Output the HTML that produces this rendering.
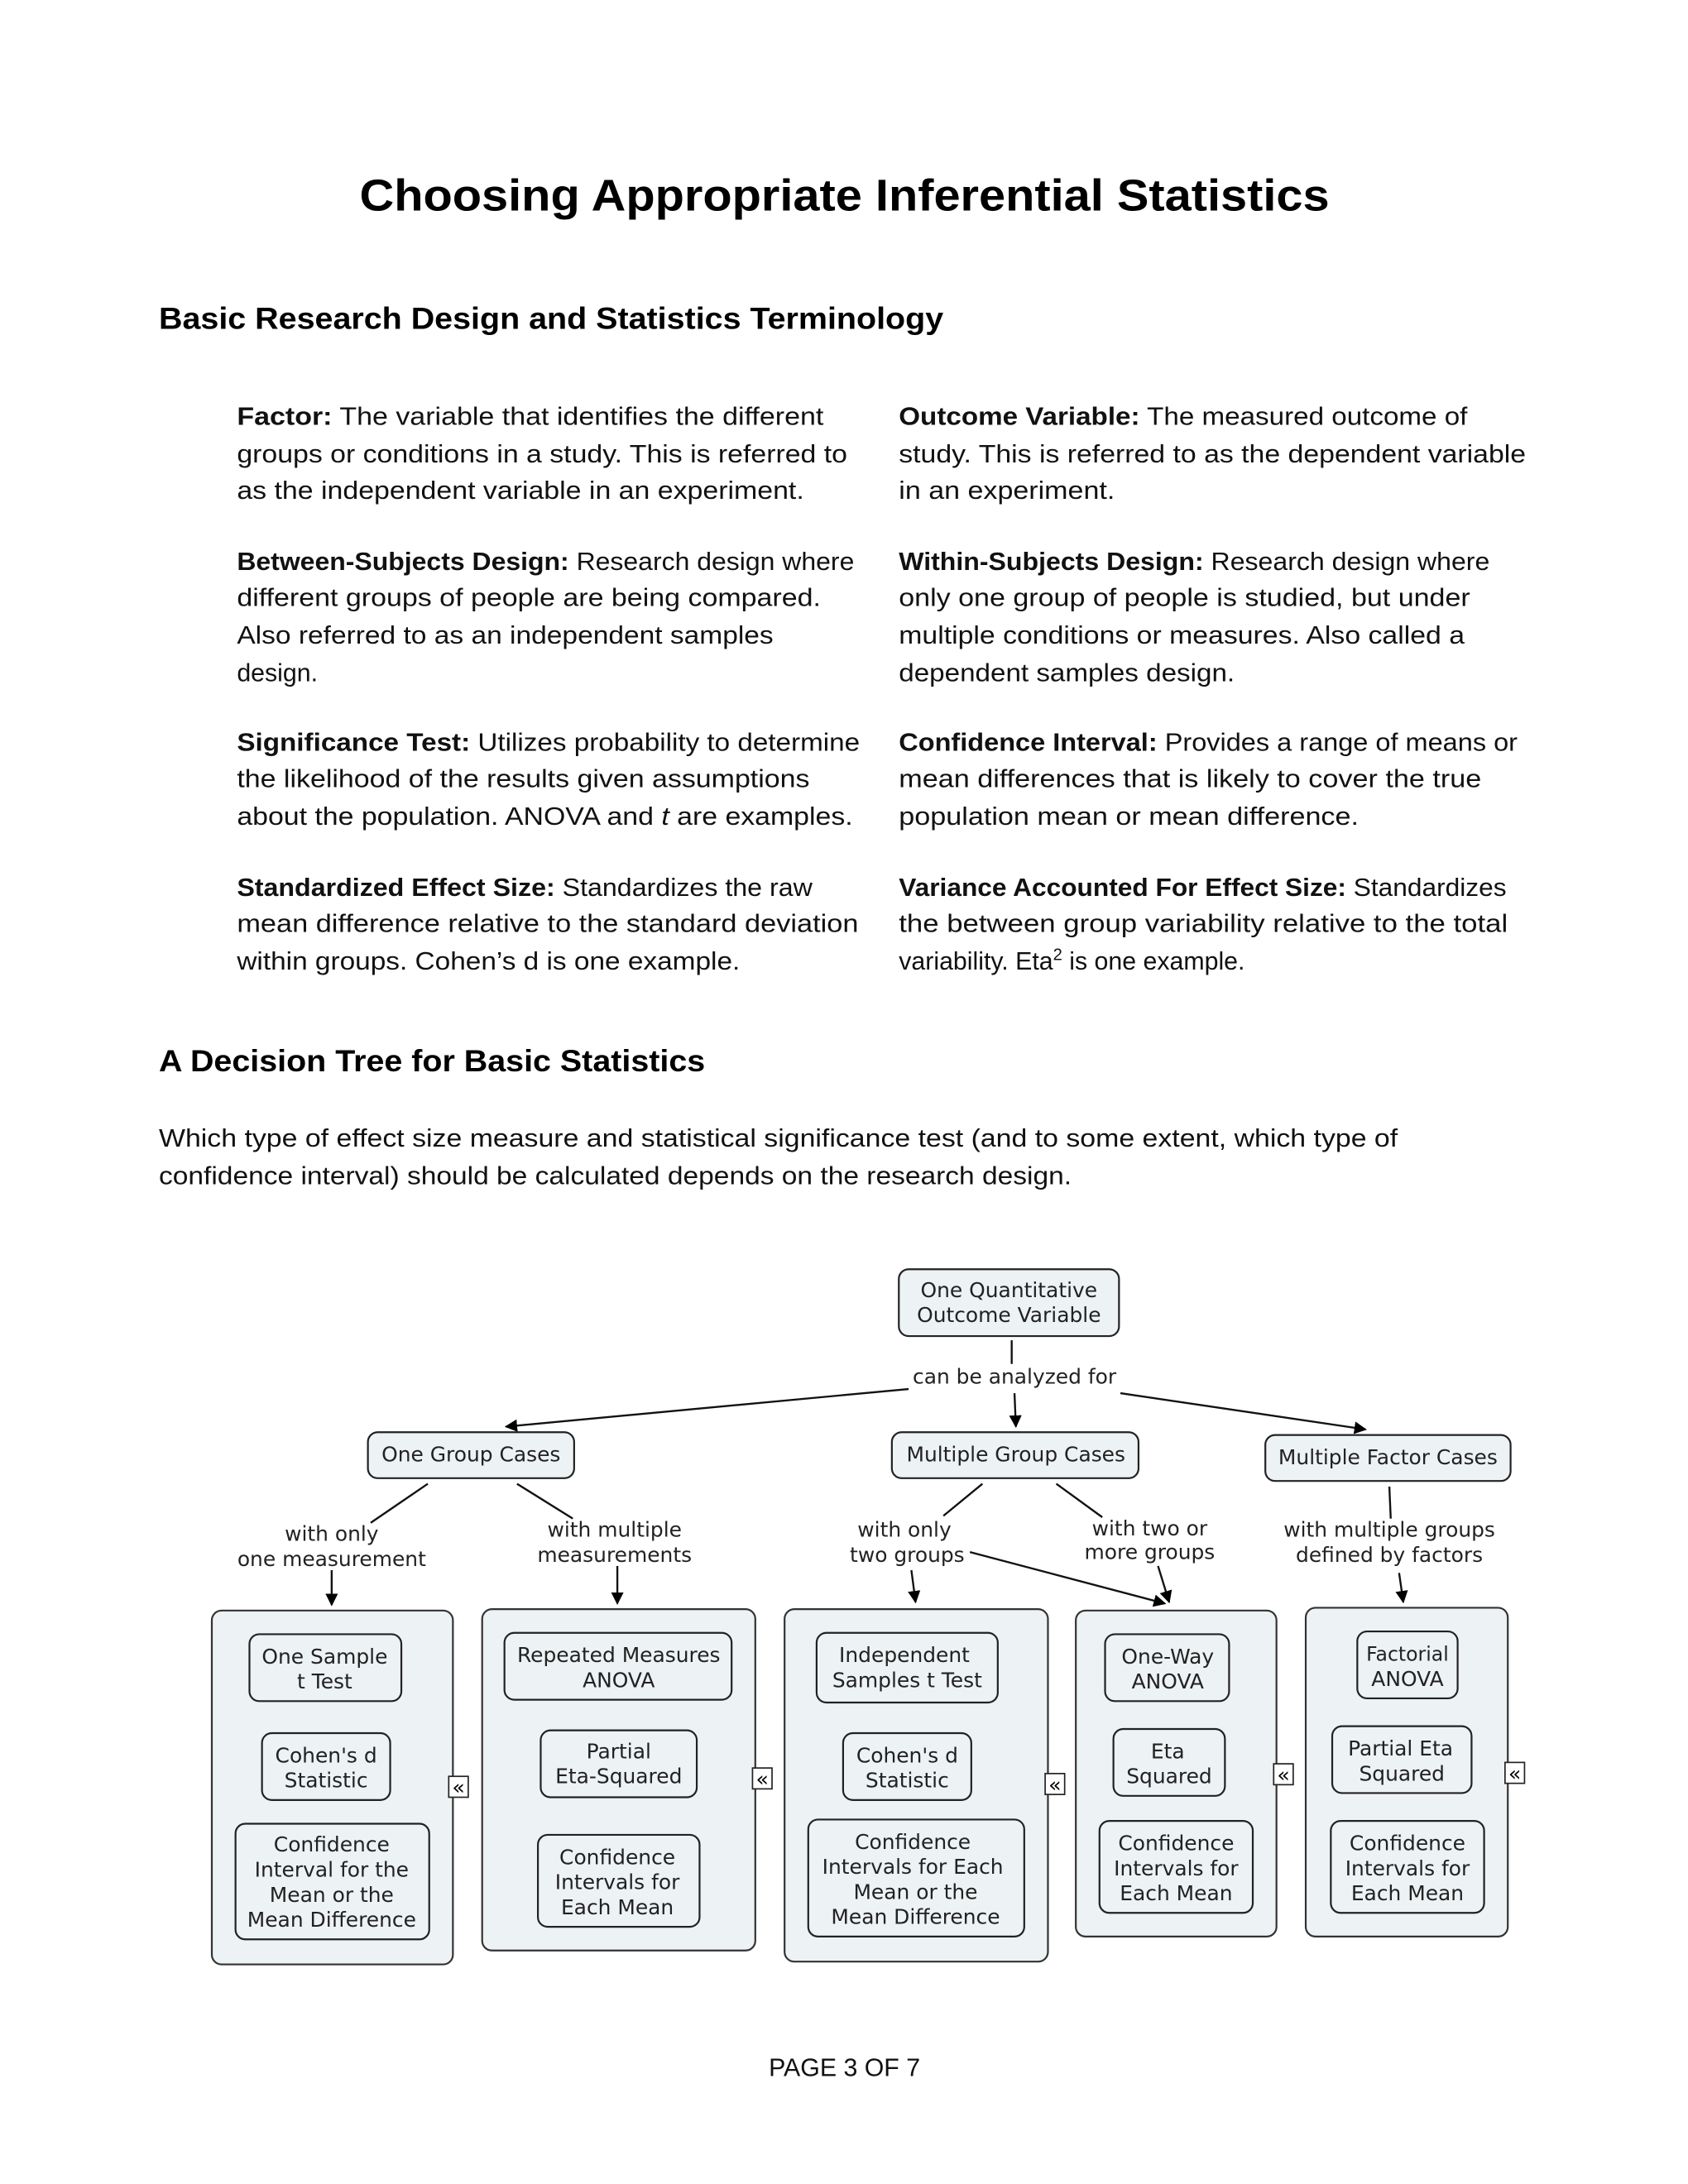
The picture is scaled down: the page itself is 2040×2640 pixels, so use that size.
<!DOCTYPE html>
<html><head><meta charset="utf-8"><style>
html,body{margin:0;padding:0;background:#fff;}
svg{display:block;}
.t{font-family:"Liberation Sans",sans-serif;font-size:18px;fill:#111;}
.d{font-family:"DejaVu Sans",sans-serif;font-size:14.8px;fill:#222;text-anchor:middle;}
.c{fill:#edf2f4;stroke:#333;stroke-width:1.3;}
.i{fill:#edf2f4;stroke:#222;stroke-width:1.3;}
.l{stroke:#111;stroke-width:1.4;fill:none;}
</style></head><body>
<svg width="2040" height="2640" viewBox="0 0 1211.3 1567.6" xmlns="http://www.w3.org/2000/svg">
<defs><marker id="a" viewBox="0 0 10 10" refX="9" refY="5" markerWidth="9" markerHeight="9" orient="auto" markerUnits="userSpaceOnUse"><path d="M0,0L10,5L0,10z" fill="#000"/></marker></defs>
<rect width="1212" height="1568" fill="#fff"/>
<text x="258" y="151" textLength="696" lengthAdjust="spacingAndGlyphs" style="font-family:'Liberation Sans',sans-serif;font-weight:bold;font-size:32px;fill:#000">Choosing Appropriate Inferential Statistics</text>
<text x="114" y="236" textLength="563" lengthAdjust="spacingAndGlyphs" style="font-family:'Liberation Sans',sans-serif;font-weight:bold;font-size:22px;fill:#000">Basic Research Design and Statistics Terminology</text>

<g class="t">
<text x="170" y="305" textLength="421" lengthAdjust="spacingAndGlyphs"><tspan font-weight="bold">Factor:</tspan> The variable that identifies the different</text>
<text x="170" y="332" textLength="438" lengthAdjust="spacingAndGlyphs">groups or conditions in a study. This is referred to</text>
<text x="170" y="358" textLength="407" lengthAdjust="spacingAndGlyphs">as the independent variable in an experiment.</text>
<text x="170" y="409" textLength="443" lengthAdjust="spacingAndGlyphs"><tspan font-weight="bold">Between-Subjects Design:</tspan> Research design where</text>
<text x="170" y="435" textLength="419" lengthAdjust="spacingAndGlyphs">different groups of people are being compared.</text>
<text x="170" y="462" textLength="385" lengthAdjust="spacingAndGlyphs">Also referred to as an independent samples</text>
<text x="170" y="489">design.</text>
<text x="170" y="539" textLength="447" lengthAdjust="spacingAndGlyphs"><tspan font-weight="bold">Significance Test:</tspan> Utilizes probability to determine</text>
<text x="170" y="565" textLength="411" lengthAdjust="spacingAndGlyphs">the likelihood of the results given assumptions</text>
<text x="170" y="592" textLength="442" lengthAdjust="spacingAndGlyphs">about the population. ANOVA and <tspan font-style="italic">t</tspan> are examples.</text>
<text x="170" y="643" textLength="413" lengthAdjust="spacingAndGlyphs"><tspan font-weight="bold">Standardized Effect Size:</tspan> Standardizes the raw</text>
<text x="170" y="669" textLength="446" lengthAdjust="spacingAndGlyphs">mean difference relative to the standard deviation</text>
<text x="170" y="696" textLength="361" lengthAdjust="spacingAndGlyphs">within groups. Cohen’s d is one example.</text>

<text x="645" y="305" textLength="408" lengthAdjust="spacingAndGlyphs"><tspan font-weight="bold">Outcome Variable:</tspan> The measured outcome of</text>
<text x="645" y="332" textLength="450" lengthAdjust="spacingAndGlyphs">study. This is referred to as the dependent variable</text>
<text x="645" y="358" textLength="155" lengthAdjust="spacingAndGlyphs">in an experiment.</text>
<text x="645" y="409" textLength="424" lengthAdjust="spacingAndGlyphs"><tspan font-weight="bold">Within-Subjects Design:</tspan> Research design where</text>
<text x="645" y="435" textLength="410" lengthAdjust="spacingAndGlyphs">only one group of people is studied, but under</text>
<text x="645" y="462" textLength="406" lengthAdjust="spacingAndGlyphs">multiple conditions or measures. Also called a</text>
<text x="645" y="489" textLength="241" lengthAdjust="spacingAndGlyphs">dependent samples design.</text>
<text x="645" y="539" textLength="444" lengthAdjust="spacingAndGlyphs"><tspan font-weight="bold">Confidence Interval:</tspan> Provides a range of means or</text>
<text x="645" y="565" textLength="418" lengthAdjust="spacingAndGlyphs">mean differences that is likely to cover the true</text>
<text x="645" y="592" textLength="330" lengthAdjust="spacingAndGlyphs">population mean or mean difference.</text>
<text x="645" y="643" textLength="436" lengthAdjust="spacingAndGlyphs"><tspan font-weight="bold">Variance Accounted For Effect Size:</tspan> Standardizes</text>
<text x="645" y="669" textLength="437" lengthAdjust="spacingAndGlyphs">the between group variability relative to the total</text>
<text x="645" y="696">variability. Eta<tspan font-size="12" dy="-7">2</tspan><tspan dy="7"> is one example.</tspan></text>

<text x="114" y="823" textLength="889" lengthAdjust="spacingAndGlyphs">Which type of effect size measure and statistical significance test (and to some extent, which type of</text>
<text x="114" y="850" textLength="655" lengthAdjust="spacingAndGlyphs">confidence interval) should be calculated depends on the research design.</text>
</g>
<text x="114" y="769" textLength="392" lengthAdjust="spacingAndGlyphs" style="font-family:'Liberation Sans',sans-serif;font-weight:bold;font-size:22px;fill:#000">A Decision Tree for Basic Statistics</text>

<g>
<rect class="i" x="645" y="911" width="158" height="48" rx="7"/>
<rect class="i" x="264" y="1028" width="148" height="33" rx="7"/>
<rect class="i" x="640" y="1028" width="177" height="33" rx="7"/>
<rect class="i" x="908" y="1030" width="176" height="33" rx="7"/>

<rect class="c" x="152" y="1156" width="173" height="254" rx="7"/>
<rect class="c" x="346" y="1155" width="196" height="245" rx="7"/>
<rect class="c" x="563" y="1155" width="189" height="253" rx="7"/>
<rect class="c" x="772" y="1156" width="144" height="234" rx="7"/>
<rect class="c" x="937" y="1154" width="145" height="236" rx="7"/>

<rect class="i" x="179" y="1173" width="109" height="48" rx="7"/>
<rect class="i" x="188" y="1244" width="92" height="48" rx="7"/>
<rect class="i" x="169" y="1309" width="139" height="83" rx="7"/>
<rect class="i" x="362" y="1172" width="163" height="48" rx="7"/>
<rect class="i" x="388" y="1242" width="112" height="48" rx="7"/>
<rect class="i" x="386" y="1317" width="116" height="66" rx="7"/>
<rect class="i" x="586" y="1172" width="130" height="50" rx="7"/>
<rect class="i" x="605" y="1244" width="92" height="48" rx="7"/>
<rect class="i" x="580" y="1306" width="155" height="84" rx="7"/>
<rect class="i" x="793" y="1173" width="89" height="48" rx="7"/>
<rect class="i" x="799" y="1241" width="80" height="48" rx="7"/>
<rect class="i" x="789" y="1307" width="110" height="66" rx="7"/>
<rect class="i" x="974" y="1171" width="72" height="48" rx="7"/>
<rect class="i" x="956" y="1239" width="100" height="48" rx="7"/>
<rect class="i" x="955" y="1307" width="110" height="66" rx="7"/>

<g fill="#fff" stroke="#222" stroke-width="1">
<rect x="322" y="1275" width="14" height="15"/><rect x="540" y="1269" width="14" height="15"/><rect x="750" y="1273" width="14" height="15"/><rect x="914" y="1266" width="14" height="15"/><rect x="1080" y="1265" width="14" height="15"/>
</g>
<g font-family="DejaVu Sans,sans-serif" font-size="15" text-anchor="middle" fill="#000">
<text x="329" y="1288">«</text><text x="547" y="1282">«</text><text x="757" y="1286">«</text><text x="921" y="1279">«</text><text x="1087" y="1278">«</text>
</g>

<g class="l">
<line x1="726" y1="962" x2="726" y2="979"/>
<line x1="652" y1="997" x2="363" y2="1024" marker-end="url(#a)"/>
<line x1="728" y1="1000" x2="729" y2="1024" marker-end="url(#a)"/>
<line x1="804" y1="1000" x2="980" y2="1026" marker-end="url(#a)"/>
<line x1="307" y1="1065" x2="266" y2="1093"/>
<line x1="371" y1="1065" x2="411" y2="1090"/>
<line x1="238" y1="1127" x2="238" y2="1152" marker-end="url(#a)"/>
<line x1="443" y1="1124" x2="443" y2="1151" marker-end="url(#a)"/>
<line x1="705" y1="1065" x2="677" y2="1088"/>
<line x1="758" y1="1065" x2="791" y2="1089"/>
<line x1="654" y1="1127" x2="657" y2="1150" marker-end="url(#a)"/>
<line x1="696" y1="1114" x2="836" y2="1151" marker-end="url(#a)"/>
<line x1="831" y1="1124" x2="839" y2="1150" marker-end="url(#a)"/>
<line x1="997" y1="1067" x2="998" y2="1090"/>
<line x1="1004" y1="1129" x2="1007" y2="1150" marker-end="url(#a)"/>
</g>

<g class="d">
<text x="724" y="931">One Quantitative</text><text x="724" y="949">Outcome Variable</text>
<text x="728" y="993">can be analyzed for</text>
<text x="338" y="1049">One Group Cases</text>
<text x="729" y="1049">Multiple Group Cases</text>
<text x="996" y="1051">Multiple Factor Cases</text>
<text x="238" y="1106">with only</text><text x="238" y="1124">one measurement</text>
<text x="441" y="1103">with multiple</text><text x="441" y="1121">measurements</text>
<text x="649" y="1103">with only</text><text x="651" y="1121">two groups</text>
<text x="825" y="1102">with two or</text><text x="825" y="1119">more groups</text>
<text x="997" y="1103">with multiple groups</text><text x="997" y="1121">defined by factors</text>

<text x="233" y="1194">One Sample</text><text x="233" y="1212">t Test</text>
<text x="234" y="1265">Cohen's d</text><text x="234" y="1283">Statistic</text>
<text x="238" y="1329">Confidence</text><text x="238" y="1347">Interval for the</text><text x="238" y="1365">Mean or the</text><text x="238" y="1383">Mean Difference</text>
<text x="444" y="1193">Repeated Measures</text><text x="444" y="1211">ANOVA</text>
<text x="444" y="1262">Partial</text><text x="444" y="1280">Eta-Squared</text>
<text x="443" y="1338">Confidence</text><text x="443" y="1356">Intervals for</text><text x="443" y="1374">Each Mean</text>
<text x="649" y="1193">Independent</text><text x="651" y="1211">Samples t Test</text>
<text x="651" y="1265">Cohen's d</text><text x="651" y="1283">Statistic</text>
<text x="655" y="1327">Confidence</text><text x="655" y="1345">Intervals for Each</text><text x="657" y="1363">Mean or the</text><text x="657" y="1381">Mean Difference</text>
<text x="838" y="1194">One-Way</text><text x="838" y="1212">ANOVA</text>
<text x="838" y="1262">Eta</text><text x="839" y="1280">Squared</text>
<text x="844" y="1328">Confidence</text><text x="844" y="1346">Intervals for</text><text x="844" y="1364">Each  Mean</text>
<text x="1010" y="1192" font-size="14">Factorial</text><text x="1010" y="1210">ANOVA</text>
<text x="1005" y="1260">Partial Eta</text><text x="1006" y="1278">Squared</text>
<text x="1010" y="1328">Confidence</text><text x="1010" y="1346">Intervals for</text><text x="1010" y="1364">Each Mean</text>
</g>
</g>

<text x="606" y="1490" text-anchor="middle" style="font-family:'Liberation Sans',sans-serif;font-size:18px;fill:#111">PAGE 3 OF 7</text>
</svg>
</body></html>
